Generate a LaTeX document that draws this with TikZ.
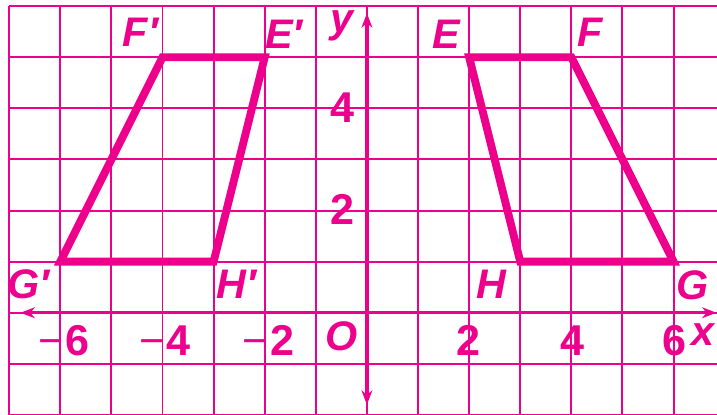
\documentclass[tikz,border=0pt]{standalone}
\usepackage{fontspec}
\setmainfont{Liberation Sans}
\usetikzlibrary{arrows.meta}
\definecolor{mag}{RGB}{236,0,140}
\newcommand{\mneg}{{\mdseries −}\hspace{0.06em}}
\begin{document}
\begin{tikzpicture}[
  gridline/.style={mag, line width=1.1pt},
  axisline/.style={mag, line width=1.8pt},
  tip/.style={-{Stealth[length=8pt,width=6pt,inset=2.5pt]}},
  trap/.style={mag, line width=4.4pt, line join=miter},
  lbl/.style={text=mag, font=\fontsize{23}{23}\selectfont\bfseries\itshape, inner sep=0pt},
  num/.style={text=mag, font=\fontsize{24}{24}\selectfont\bfseries, inner sep=0pt}
]
\useasboundingbox (-7.18,-2.0) rectangle (6.85,6.12);
\begin{scope}
\clip (-7.18,-2.0) rectangle (6.85,6.12);
\draw[gridline] (-7,-2) grid (7,6);
\end{scope}
% axes
\coordinate (xl) at (-6.78,0);
\coordinate (xr) at (6.84,0);
\coordinate (yt) at (0,5.86);
\coordinate (yb) at (0,-1.8);
\coordinate (O) at (0,0);
\draw[axisline,tip] (O) -- (xr);
\draw[axisline,tip] (O) -- (xl);
\draw[axisline,tip] (O) -- (yt);
\draw[axisline,tip] (O) -- (yb);
% trapezoids
\coordinate (E) at (2,5);
\coordinate (F) at (4,5);
\coordinate (G) at (6,1);
\coordinate (H) at (3,1);
\coordinate (E') at (-2,5);
\coordinate (F') at (-4,5);
\coordinate (G') at (-6,1);
\coordinate (H') at (-3,1);
\draw[trap] (E) -- (F) -- (G) -- (H) -- cycle;
\draw[trap] (E') -- (F') -- (G') -- (H') -- cycle;
% vertex labels
\node[lbl] (lF') at (-4.43,5.49) {F′};
\node[lbl] (lE') at (-1.62,5.45) {E′};
\node[lbl] (lG') at (-6.62,0.55) {G′};
\node[lbl] (lH') at (-2.56,0.55) {H′};
\node[lbl] (lE) at (1.56,5.45) {E};
\node[lbl] (lF) at (4.36,5.49) {F};
\node[lbl] (lG) at (6.37,0.53) {G};
\node[lbl] (lH) at (2.44,0.55) {H};
% axis labels
\node[lbl] (lx) at (6.58,-0.43) {x};
\node[lbl] (ly) at (-0.49,5.62) {y};
\node[lbl] (lO) at (-0.49,-0.47) {O};
% numbers
\node[num] (n4y) at (-0.47,4.02) {4};
\node[num] (n2y) at (-0.47,2.02) {2};
\node[num] (nm6) at (-5.93,-0.55) {\mneg 6};
\node[num] (nm4) at (-3.95,-0.55) {\mneg 4};
\node[num] (nm2) at (-1.93,-0.55) {\mneg 2};
\node[num] (n2) at (1.99,-0.55) {2};
\node[num] (n4) at (4.02,-0.55) {4};
\node[num] (n6) at (6.02,-0.55) {6};
\end{tikzpicture}
\end{document}
